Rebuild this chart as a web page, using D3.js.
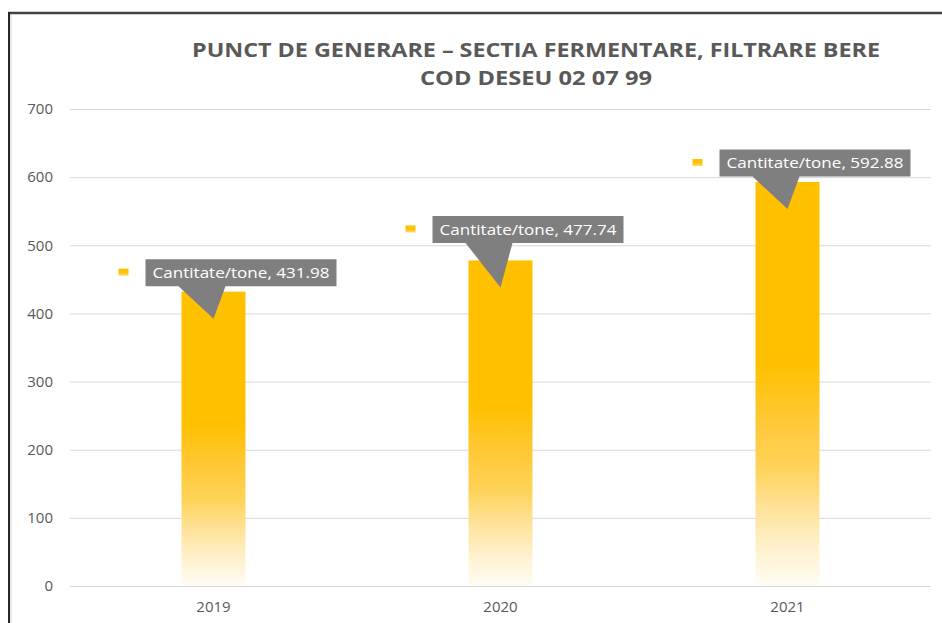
<!DOCTYPE html>
<html>
<head>
<meta charset="utf-8">
<script src="https://cdn.jsdelivr.net/npm/d3@7"></script>
<style>
  html, body { margin: 0; padding: 0; background: #fff; }
  svg { display: block; }
  text { font-family: "Open Sans", "Liberation Sans", sans-serif; }
</style>
</head>
<body>
<script>
const categories = ["2019", "2020", "2021"];
const values = [431.98, 477.74, 592.88];
const seriesName = "Cantitate/tone";
const yTicks = [0, 100, 200, 300, 400, 500, 600, 700];
const titleLines = ["PUNCT DE GENERARE \u2013 SECTIA FERMENTARE, FILTRARE BERE", "COD DESEU 02 07 99"];
// layout-only: extra lift of each data-label box (px)
const labelLift = [0, 12, 0];

const W = 942, H = 623;
const svg = d3.select("body").append("svg").attr("width", W).attr("height", H);

const defs = svg.append("defs");
const grad = defs.append("linearGradient").attr("id", "barGrad")
  .attr("x1", 0).attr("y1", 0).attr("x2", 0).attr("y2", 1);
[[0, "#FFC000"], [0.45, "#FFC000"], [0.6, "#FFC93A"], [0.7, "#FFD256"], [0.82, "#FFE4A0"], [0.92, "#FFF3D4"], [1, "#FFFCF4"]]
  .forEach(([o, c]) => grad.append("stop").attr("offset", o).attr("stop-color", c));
const kgrad = defs.append("linearGradient").attr("id", "keyGrad")
  .attr("x1", 0).attr("y1", 0).attr("x2", 0).attr("y2", 1);
[[0, "#FFC000"], [0.6, "#FFC20A"], [1, "#FFDC7A"]]
  .forEach(([o, c]) => kgrad.append("stop").attr("offset", o).attr("stop-color", c));

// frame
svg.append("line").attr("x1", 8).attr("x2", W).attr("y1", 13).attr("y2", 13)
  .attr("stroke", "#404040").attr("stroke-width", 2.5);
svg.append("line").attr("x1", 9).attr("x2", 9).attr("y1", 12).attr("y2", H)
  .attr("stroke", "#262626").attr("stroke-width", 2);
svg.append("line").attr("x1", 11).attr("x2", 11).attr("y1", 14).attr("y2", H)
  .attr("stroke", "#d0d0d0").attr("stroke-width", 1);

const x = d3.scaleBand().domain(categories).range([70, 931])
  .paddingInner(0.777).paddingOuter(0.777 / 2);
const y = d3.scaleLinear().domain([0, 700]).range([586, 109]);

// gridlines
const yAxis = d3.axisLeft(y).tickValues(yTicks).tickSize(-(931 - 70)).tickPadding(17);
const gy = svg.append("g").attr("transform", "translate(70,0)").call(yAxis);
gy.select(".domain").remove();
gy.selectAll(".tick line").attr("stroke", "#D9D9D9").attr("stroke-width", 1);
gy.selectAll(".tick text").attr("fill", "#595959").style("font-size", "15px")
  .style("font-family", "'Open Sans', sans-serif");

// bars
svg.append("g").selectAll("rect").data(values).join("rect")
  .attr("x", (d, i) => x(categories[i]))
  .attr("width", x.bandwidth())
  .attr("y", d => y(d))
  .attr("height", d => y(0) - y(d))
  .attr("fill", "url(#barGrad)");

// x axis
const xAxis = d3.axisBottom(x).tickSize(0).tickPadding(15);
const gx = svg.append("g").attr("transform", `translate(0,${y(0)})`).call(xAxis);
gx.select(".domain").attr("stroke", "#D9D9D9").attr("d", "M70,0.5H931");
gx.selectAll(".tick text").attr("fill", "#595959").style("font-size", "15px")
  .style("font-family", "'Open Sans', sans-serif");

// data labels (callouts)
const boxW = 191, boxH = 27;
const lab = svg.append("g").selectAll("g").data(values).join("g");
lab.each(function (d, i) {
  const g = d3.select(this);
  const cx = x(categories[i]) + x.bandwidth() / 2;
  const top = y(d);
  const tipY = top + 27;
  const bx = cx - 68;
  const by = top - 32.5 - labelLift[i];
  g.append("path")
    .attr("d", `M${bx},${by}H${bx + boxW}V${by + boxH}H${cx + 12}L${cx},${tipY}L${cx - 35},${by + boxH}H${bx}Z`)
    .attr("fill", "#7F7F7F");
  g.append("text")
    .attr("x", bx + 7).attr("y", by + boxH / 2 + 5.5)
    .attr("fill", "#fff").style("font-size", "15px")
    .attr("textLength", 177).attr("lengthAdjust", "spacingAndGlyphs")
    .text(`${seriesName}, ${d3.format(".2f")(d)}`);
  g.append("rect")
    .attr("x", bx - 27).attr("y", by + boxH / 2 - 4)
    .attr("width", 10).attr("height", 7)
    .attr("fill", "url(#keyGrad)");
});

// title
svg.append("text").attr("x", 536).attr("y", 57).attr("text-anchor", "middle")
  .attr("fill", "#595959").style("font-size", "19px").style("font-weight", "bold")
  .attr("textLength", 688).attr("lengthAdjust", "spacingAndGlyphs")
  .text(titleLines[0]);
svg.append("text").attr("x", 536).attr("y", 85).attr("text-anchor", "middle")
  .attr("fill", "#595959").style("font-size", "19px").style("font-weight", "bold")
  .attr("textLength", 232).attr("lengthAdjust", "spacingAndGlyphs")
  .text(titleLines[1]);
</script>
</body>
</html>
